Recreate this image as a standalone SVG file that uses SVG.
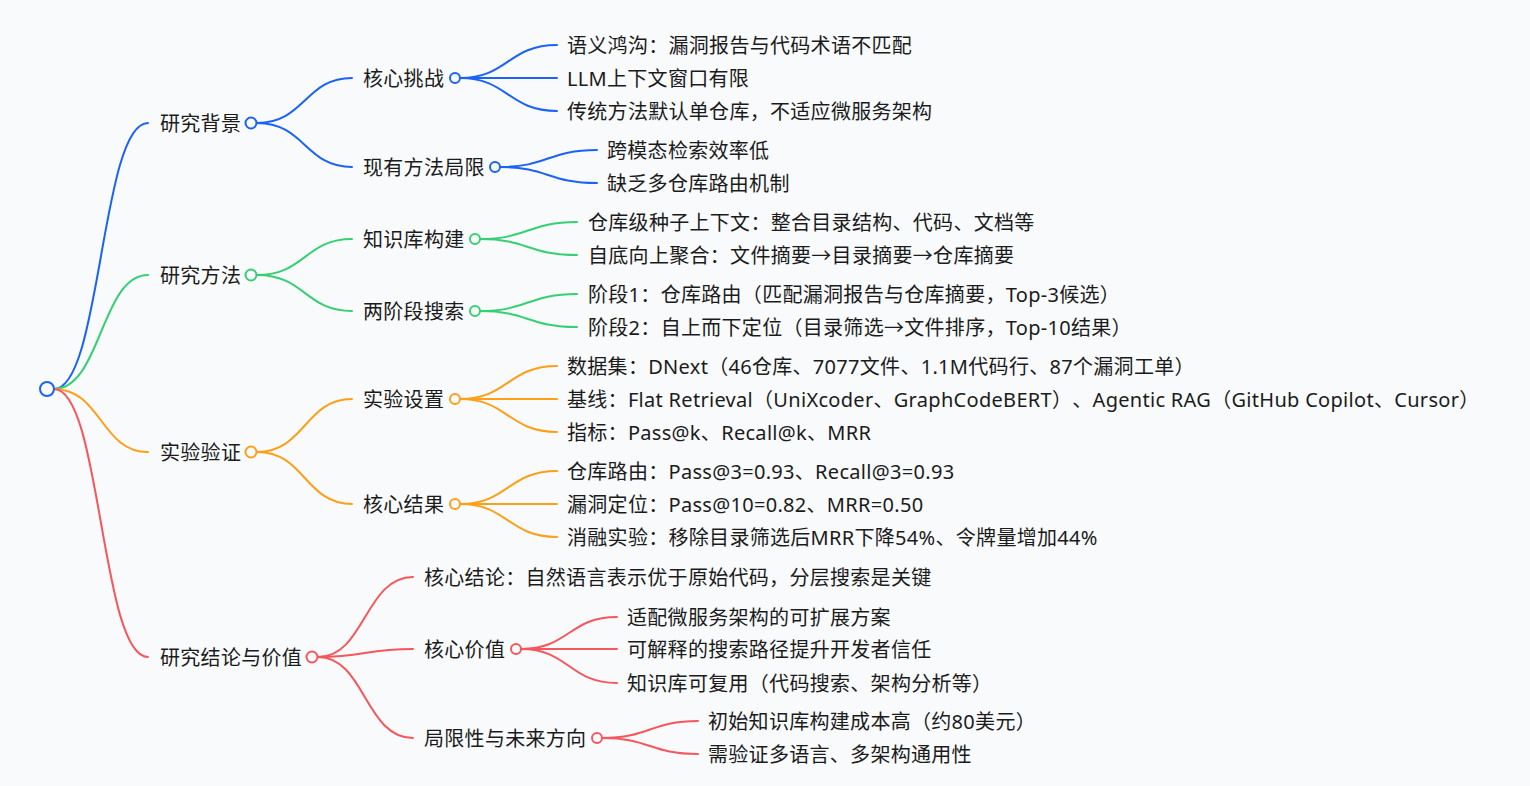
<svg xmlns="http://www.w3.org/2000/svg" width="1530" height="786" viewBox="0 0 1530 786">
<style>
text{font-family:"Noto Sans","Noto Sans CJK SC",sans-serif;font-size:20px;fill:#1b1b1b;dominant-baseline:central;text-spacing-trim:space-all;letter-spacing:0.3px}
.l{fill:none;stroke-width:2;stroke-linecap:round}
.c{stroke-width:2}
.b{stroke:#1a63f4}.g{stroke:#36cf73}.o{stroke:#fd9f18}.r{stroke:#f5575c}
circle{fill:#f8fafc}
</style>
<rect width="1530" height="786" fill="#f8fafc"/>
<g id="connectors">
<path class="l b" d="M54,389 C101,389 101,123 148,123"/>
<path class="l g" d="M54,389 C101,389 101,275 148,275"/>
<path class="l o" d="M54,389 C101,389 101,452 148,452"/>
<path class="l r" d="M54,389 C101,389 101,657 148,657"/>
<path class="l b" d="M257,123 C305,123 305,78 352,78"/>
<path class="l b" d="M257,123 C305,123 305,167 352,167"/>
<path class="l g" d="M257,275 C305,275 305,239 352,239"/>
<path class="l g" d="M257,275 C305,275 305,311 352,311"/>
<path class="l o" d="M257,452 C305,452 305,399 352,399"/>
<path class="l o" d="M257,452 C305,452 305,504 352,504"/>
<path class="l r" d="M318,657 C365,657 365,577 413,577"/>
<path class="l r" d="M318,657 C365,657 365,649 413,649"/>
<path class="l r" d="M318,657 C365,657 365,738 413,738"/>
<path class="l b" d="M460,78 C508,78 508,45 557,45"/>
<path class="l b" d="M460,78 L557,78"/>
<path class="l b" d="M460,78 C508,78 508,111 557,111"/>
<path class="l b" d="M500,167 C548,167 548,150 597,150"/>
<path class="l b" d="M500,167 C548,167 548,183 597,183"/>
<path class="l g" d="M480,239 C528,239 528,222 577,222"/>
<path class="l g" d="M480,239 C528,239 528,255 577,255"/>
<path class="l g" d="M480,311 C528,311 528,294 577,294"/>
<path class="l g" d="M480,311 C528,311 528,327 577,327"/>
<path class="l o" d="M460,399 C508,399 508,366 557,366"/>
<path class="l o" d="M460,399 L557,399"/>
<path class="l o" d="M460,399 C508,399 508,432 557,432"/>
<path class="l o" d="M460,504 C508,504 508,471 557,471"/>
<path class="l o" d="M460,504 L557,504"/>
<path class="l o" d="M460,504 C508,504 508,537 557,537"/>
<path class="l r" d="M521,649 C569,649 569,617 617,617"/>
<path class="l r" d="M521,649 L617,649"/>
<path class="l r" d="M521,649 C569,649 569,683 617,683"/>
<path class="l r" d="M602,738 C650,738 650,721 698,721"/>
<path class="l r" d="M602,738 C650,738 650,754 698,754"/>
</g>
<g id="root"><circle class="c b" cx="47" cy="389" r="7"/></g>
<g id="n1"><text x="160" y="123">研究背景</text><circle class="c b" cx="251" cy="123" r="5.5"/></g>
<g id="n1-1"><text x="363" y="78">核心挑战</text><circle class="c b" cx="455" cy="78" r="5"/></g>
<g id="n1-1-1"><text x="567" y="45">语义鸿沟：漏洞报告与代码术语不匹配</text></g>
<g id="n1-1-2"><text x="567" y="78">LLM上下文窗口有限</text></g>
<g id="n1-1-3"><text x="567" y="111">传统方法默认单仓库，不适应微服务架构</text></g>
<g id="n1-2"><text x="363" y="167">现有方法局限</text><circle class="c b" cx="495" cy="167" r="5"/></g>
<g id="n1-2-1"><text x="607" y="150">跨模态检索效率低</text></g>
<g id="n1-2-2"><text x="607" y="183">缺乏多仓库路由机制</text></g>
<g id="n2"><text x="160" y="275">研究方法</text><circle class="c g" cx="251" cy="275" r="5.5"/></g>
<g id="n2-1"><text x="363" y="239">知识库构建</text><circle class="c g" cx="475" cy="239" r="5"/></g>
<g id="n2-1-1"><text x="588" y="222">仓库级种子上下文：整合目录结构、代码、文档等</text></g>
<g id="n2-1-2"><text x="588" y="255">自底向上聚合：文件摘要→目录摘要→仓库摘要</text></g>
<g id="n2-2"><text x="363" y="311">两阶段搜索</text><circle class="c g" cx="475" cy="311" r="5"/></g>
<g id="n2-2-1"><text x="588" y="294">阶段1：仓库路由（匹配漏洞报告与仓库摘要，Top-3候选）</text></g>
<g id="n2-2-2"><text x="588" y="327">阶段2：自上而下定位（目录筛选→文件排序，Top-10结果）</text></g>
<g id="n3"><text x="160" y="452">实验验证</text><circle class="c o" cx="251" cy="452" r="5.5"/></g>
<g id="n3-1"><text x="363" y="399">实验设置</text><circle class="c o" cx="455" cy="399" r="5"/></g>
<g id="n3-1-1"><text x="567" y="366">数据集：DNext（46仓库、7077文件、1.1M代码行、87个漏洞工单）</text></g>
<g id="n3-1-2"><text x="567" y="399">基线：Flat Retrieval（UniXcoder、GraphCodeBERT）、Agentic RAG（GitHub Copilot、Cursor）</text></g>
<g id="n3-1-3"><text x="567" y="432">指标：Pass@k、Recall@k、MRR</text></g>
<g id="n3-2"><text x="363" y="504">核心结果</text><circle class="c o" cx="455" cy="504" r="5"/></g>
<g id="n3-2-1"><text x="567" y="471">仓库路由：Pass@3=0.93、Recall@3=0.93</text></g>
<g id="n3-2-2"><text x="567" y="504">漏洞定位：Pass@10=0.82、MRR=0.50</text></g>
<g id="n3-2-3"><text x="567" y="537">消融实验：移除目录筛选后MRR下降54%、令牌量增加44%</text></g>
<g id="n4"><text x="160" y="657">研究结论与价值</text><circle class="c r" cx="312" cy="657" r="5.5"/></g>
<g id="n4-1"><text x="424" y="577">核心结论：自然语言表示优于原始代码，分层搜索是关键</text></g>
<g id="n4-2"><text x="424" y="649">核心价值</text><circle class="c r" cx="516" cy="649" r="5"/></g>
<g id="n4-2-1"><text x="627" y="617">适配微服务架构的可扩展方案</text></g>
<g id="n4-2-2"><text x="627" y="649">可解释的搜索路径提升开发者信任</text></g>
<g id="n4-2-3"><text x="627" y="683">知识库可复用（代码搜索、架构分析等）</text></g>
<g id="n4-3"><text x="424" y="738">局限性与未来方向</text><circle class="c r" cx="597" cy="738" r="5"/></g>
<g id="n4-3-1"><text x="708" y="721">初始知识库构建成本高（约80美元）</text></g>
<g id="n4-3-2"><text x="708" y="754">需验证多语言、多架构通用性</text></g>
</svg>
